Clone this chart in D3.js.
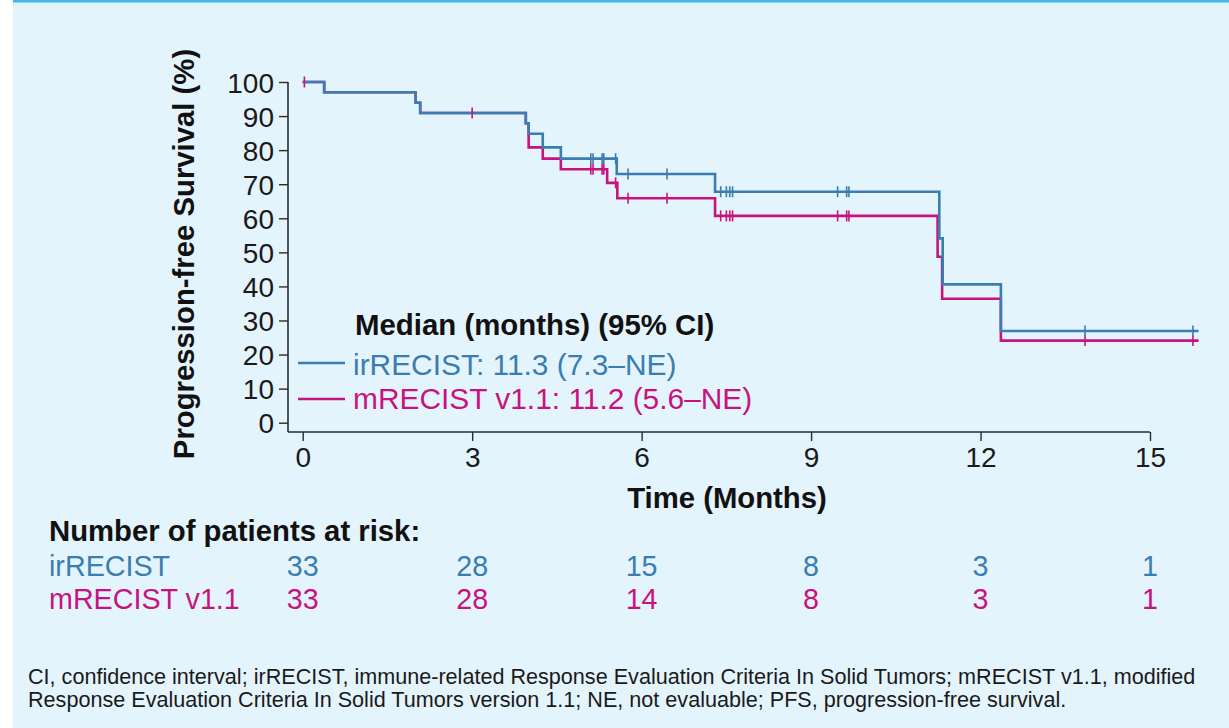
<!DOCTYPE html>
<html>
<head>
<meta charset="utf-8">
<script src="https://cdn.jsdelivr.net/npm/d3@7/dist/d3.min.js"></script>
<style>
  html, body { margin: 0; padding: 0; background: #ffffff; }
  svg { display: block; }
  text { font-family: "Liberation Sans", Arial, Helvetica, sans-serif; }
</style>
</head>
<body>
<svg id="chart" width="1229" height="728"></svg>
<script>
// Axis ticks
const monthTicks = [0, 3, 6, 9, 12, 15];
const pfsTicks = [0, 10, 20, 30, 40, 50, 60, 70, 80, 90, 100];

// irRECIST Kaplan–Meier steps (time in months, PFS % after the step)
const irTimes = [0, 0.38, 2.00, 2.08, 3.95, 4.00, 4.25, 4.57, 5.56, 7.30, 11.27, 11.33, 12.36, 15.86];
const irSurv  = [100, 97.0, 93.9, 90.9, 87.9, 84.8, 80.8, 77.5, 73.0, 67.8, 54.1, 40.6, 26.9, 26.9];
const irCensored = [5.10, 5.14, 5.30, 5.33, 5.54, 5.76, 6.45, 7.40, 7.50, 7.56, 7.61, 9.47, 9.63, 9.67, 13.85, 15.76];

// mRECIST v1.1 Kaplan–Meier steps
const mTimes = [0, 0.38, 2.00, 2.08, 3.95, 4.00, 4.25, 4.57, 5.39, 5.57, 7.30, 11.24, 11.32, 12.36, 15.86];
const mSurv  = [100, 97.0, 93.9, 90.9, 87.9, 80.8, 77.5, 74.4, 70.4, 65.9, 60.7, 48.7, 36.4, 24.1, 24.1];
const mCensored = [0.03, 3.00, 5.10, 5.14, 5.30, 5.33, 5.54, 5.76, 6.45, 7.40, 7.50, 7.56, 7.61, 9.47, 9.63, 9.67, 13.85, 15.76];

// Number at risk at each month tick
const irAtRisk = [33, 28, 15, 8, 3, 1];
const mAtRisk  = [33, 28, 14, 8, 3, 1];

const seriesNames = ["irRECIST", "mRECIST v1.1"];
const legendLabels = ["irRECIST: 11.3 (7.3\u2013NE)", "mRECIST v1.1: 11.2 (5.6\u2013NE)"];
const legendTitle = "Median (months) (95% CI)";
const atRiskTitle = "Number of patients at risk:";
const footnoteLines = [
  "CI, confidence interval; irRECIST, immune-related Response Evaluation Criteria In Solid Tumors; mRECIST v1.1, modified",
  "Response Evaluation Criteria In Solid Tumors version 1.1; NE, not evaluable; PFS, progression-free survival."
];

const BLUE = "#3a7db0";
const MAGENTA = "#c8137e";
const AXIS = "#2b2b2b";

const svg = d3.select("#chart");

// Panel background and top rule
svg.append("rect").attr("x", 13).attr("y", 0).attr("width", 1216).attr("height", 728).attr("fill", "#e4f4fc");
svg.append("rect").attr("x", 13).attr("y", 0).attr("width", 1216).attr("height", 2.5).attr("fill", "#45b6e8");

const x = d3.scaleLinear().domain([0, 15]).range([302.7, 1150]);
const y = d3.scaleLinear().domain([0, 100]).range([422.7, 82]);

const axisX0 = 288, axisY0 = 432;

// Y axis
const yAxisG = svg.append("g").attr("transform", `translate(${axisX0},0)`)
  .call(d3.axisLeft(y).tickValues(pfsTicks).tickSize(9).tickPadding(5).tickSizeOuter(0));
yAxisG.select(".domain").remove();
yAxisG.append("line").attr("x1", 0).attr("x2", 0).attr("y1", y(100)).attr("y2", axisY0)
  .attr("stroke", AXIS).attr("stroke-width", 1.6);
yAxisG.selectAll(".tick line").attr("stroke", AXIS).attr("stroke-width", 1.4);
yAxisG.selectAll(".tick text").attr("fill", "#1a1a1a").style("font-size", "28px")
  .style("font-family", "'Liberation Sans', Arial, sans-serif").attr("dy", "0.36em");

// X axis
const xAxisG = svg.append("g").attr("transform", `translate(0,${axisY0})`)
  .call(d3.axisBottom(x).tickValues(monthTicks).tickSize(9).tickPadding(6).tickSizeOuter(0));
xAxisG.select(".domain").remove();
xAxisG.append("line").attr("x1", axisX0).attr("x2", x(15)).attr("y1", 0).attr("y2", 0)
  .attr("stroke", AXIS).attr("stroke-width", 1.6);
xAxisG.selectAll(".tick line").attr("stroke", AXIS).attr("stroke-width", 1.4);
xAxisG.selectAll(".tick text").attr("fill", "#1a1a1a").style("font-size", "28px")
  .style("font-family", "'Liberation Sans', Arial, sans-serif");

// Axis titles
svg.append("text")
  .attr("transform", "translate(194,254) rotate(-90)")
  .attr("text-anchor", "middle")
  .style("font-size", "29.3px").style("font-weight", "bold").attr("fill", "#111")
  .text("Progression-free Survival (%)");

svg.append("text")
  .attr("x", 727).attr("y", 508)
  .attr("text-anchor", "middle")
  .style("font-size", "29.3px").style("font-weight", "bold").attr("fill", "#111")
  .text("Time (Months)");

// Kaplan–Meier curves
const stepLine = d3.line().curve(d3.curveStepAfter).x(d => x(d[0])).y(d => y(d[1]));
const survAt = (times, surv, t) => surv[d3.bisectRight(times, t) - 1];

const curves = [
  { times: mTimes, surv: mSurv, censored: mCensored, color: MAGENTA },
  { times: irTimes, surv: irSurv, censored: irCensored, color: BLUE }
];

curves.forEach(c => {
  svg.append("path")
    .datum(c.times.map((t, i) => [t, c.surv[i]]))
    .attr("d", stepLine)
    .attr("fill", "none")
    .attr("stroke", c.color)
    .attr("stroke-width", 2.6)
    .attr("stroke-linejoin", "miter");
});

curves.forEach(c => {
  svg.append("g").selectAll("line")
    .data(c.censored)
    .join("line")
    .attr("x1", d => x(d)).attr("x2", d => x(d))
    .attr("y1", d => y(survAt(c.times, c.surv, d)) - 5.5)
    .attr("y2", d => y(survAt(c.times, c.surv, d)) + 5.5)
    .attr("stroke", c.color)
    .attr("stroke-width", 1.6);
});

// Legend
svg.append("text").attr("x", 355).attr("y", 335)
  .style("font-size", "29.4px").style("font-weight", "bold").attr("fill", "#111")
  .text(legendTitle);

const legendRows = [
  { label: legendLabels[0], color: BLUE, lineY: 363, baseY: 375 },
  { label: legendLabels[1], color: MAGENTA, lineY: 399, baseY: 409 }
];
legendRows.forEach(r => {
  svg.append("line").attr("x1", 298).attr("x2", 345).attr("y1", r.lineY).attr("y2", r.lineY)
    .attr("stroke", r.color).attr("stroke-width", 2.6);
  svg.append("text").attr("x", 353).attr("y", r.baseY)
    .style("font-size", "29.9px").attr("fill", r.color)
    .text(r.label);
});

// Number at risk table
svg.append("text").attr("x", 49).attr("y", 541)
  .style("font-size", "29.3px").style("font-weight", "bold").attr("fill", "#111")
  .text(atRiskTitle);

const riskRows = [
  { name: seriesNames[0], values: irAtRisk, color: BLUE, baseY: 576 },
  { name: seriesNames[1], values: mAtRisk, color: MAGENTA, baseY: 609 }
];
riskRows.forEach(r => {
  svg.append("text").attr("x", 49).attr("y", r.baseY)
    .style("font-size", "28.7px").attr("fill", r.color).text(r.name);
  svg.append("g").selectAll("text")
    .data(r.values)
    .join("text")
    .attr("x", (d, i) => x(monthTicks[i]))
    .attr("y", r.baseY)
    .attr("text-anchor", "middle")
    .style("font-size", "28.7px")
    .attr("fill", r.color)
    .text(d => d);
});

// Footnote
svg.append("g").selectAll("text")
  .data(footnoteLines)
  .join("text")
  .attr("x", 28)
  .attr("y", (d, i) => 684 + i * 23)
  .style("font-size", "21.6px")
  .attr("fill", "#1a1a1a")
  .text(d => d);
</script>
</body>
</html>
